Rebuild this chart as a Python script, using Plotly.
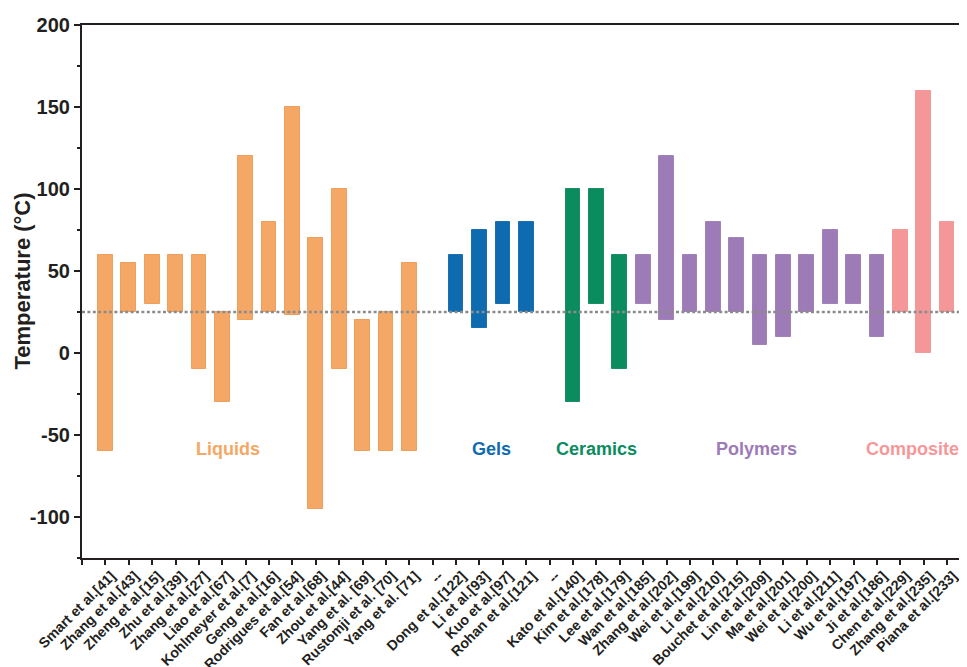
import plotly.graph_objects as go

categories = [
    "Smart et al.[41]", "Zhang et al.[43]", "Zheng et al.[15]", "Zhu et al.[39]",
    "Zhang et al.[27]", "Liao et al.[67]", "Kohlmeyer et al.[7]", "Geng et al.[16]",
    "Rodrigues et al.[54]", "Fan et al.[68]", "Zhou et al.[44]", "Yang et al. [69]",
    "Rustomji et al. [70]", "Yang et al. [71]", "--",
    "Dong et al.[122]", "Li et al.[93]", "Kuo et al.[97]", "Rohan et al.[121]", "--",
    "Kato et al.[140]", "Kim et al.[178]", "Lee et al.[179]",
    "Wan et al.[185]", "Zhang et al.[202]", "Wei et al.[199]", "Li et al.[210]",
    "Bouchet et al.[215]", "Lin et al.[209]", "Ma et al.[201]", "Wei et al.[200]",
    "Li et al.[211]", "Wu et al.[197]", "Ji et al.[186]",
    "Chen et al.[229]", "Zhang et al.[235]", "Piana et al.[233]",
]
low = [-60, 25, 30, 25, -10, -30, 20, 25, 23, -95, -10, -60, -60, -60, None,
       25, 15, 30, 25, None,
       -30, 30, -10,
       30, 20, 25, 25, 25, 5, 10, 25, 30, 30, 10,
       25, 0, 25]
high = [60, 55, 60, 60, 60, 25, 120, 80, 150, 70, 100, 20, 25, 55, None,
        60, 75, 80, 80, None,
        100, 100, 60,
        60, 120, 60, 80, 70, 60, 60, 60, 75, 60, 60,
        75, 160, 80]
group = (["Liquids"] * 14 + [None] + ["Gels"] * 4 + [None] + ["Ceramics"] * 3
         + ["Polymers"] * 11 + ["Composites"] * 3)

group_names = ["Liquids", "Gels", "Ceramics", "Polymers", "Composites"]
group_colors = ["#F5A866", "#0F6BAF", "#0A8C5E", "#9D7BB6", "#F59798"]
group_lines = ["#EE9F5C", "#1A6FB0", "#1B8F63", "#A283B9", "#F29A9B"]
group_label_x = [5.26, 16.5, 21.0, 27.86, 34.72]
group_label_y = -58.4
room_temp = 25
y_title = "Temperature (°C)"

y_ticks = [-100, -50, 0, 50, 100, 150, 200]

fig = go.Figure()
for gname, col, lcol in zip(group_names, group_colors, group_lines):
    idx = [i for i, g in enumerate(group) if g == gname]
    fig.add_trace(go.Bar(
        x=idx,
        y=[high[i] - low[i] for i in idx],
        base=[low[i] for i in idx],
        width=0.63,
        marker=dict(color=col, line=dict(color=lcol, width=1)),
        showlegend=False,
        hoverinfo="skip",
    ))

for gname, col, gx in zip(group_names, group_colors, group_label_x):
    fig.add_annotation(
        x=gx, y=group_label_y, xref="x", yref="y", text=gname, showarrow=False,
        font=dict(family="Liberation Sans, Arial, sans-serif", size=18, color=col, weight="bold"),
        xanchor="center", yanchor="middle",
    )

fig.add_shape(
    type="line", xref="paper", yref="y", x0=0, x1=1, y0=room_temp, y1=room_temp,
    line=dict(color="#8C8C8C", width=2.6, dash="3px,2.4px"), layer="above",
)

tick_font = dict(family="Liberation Sans, Arial, sans-serif", color="#231F20", weight="bold")

# y-axis title as rotated annotation (placed slightly above the plot centre, as in the reference)
fig.add_annotation(
    x=0, y=0.5, xref="paper", yref="paper", text=y_title, showarrow=False,
    textangle=-90, xanchor="center", yanchor="middle", xshift=-60, yshift=10,
    font=dict(size=22, **tick_font),
)

# page body has an 8px default margin; figure is sized so it ends at the window edge
fig.update_layout(
    width=959, height=659,
    margin=dict(l=74, r=0, t=17, b=109, autoexpand=False),
    plot_bgcolor="white", paper_bgcolor="white",
    bargap=0,
    xaxis=dict(
        range=[-1, 36.85],
        automargin=False,
        tickmode="array",
        tickvals=[-1] + list(range(len(categories))),
        ticktext=[""] + categories,
        tickangle=-45,
        tickfont=dict(size=14.2, **tick_font),
        ticklabelshift=6,
        ticklabelstandoff=-3,
        ticks="outside", ticklen=5, tickwidth=2, tickcolor="#231F20",
        showline=True, linecolor="#231F20", linewidth=2.2, mirror=True,
        showgrid=False, zeroline=False,
    ),
    yaxis=dict(
        range=[-125, 200],
        automargin=False,
        tickmode="array",
        tickvals=y_ticks,
        ticktext=[str(v) for v in y_ticks],
        tickfont=dict(size=20, **tick_font),
        ticks="outside", ticklen=6, tickwidth=2, tickcolor="#231F20",
        minor=dict(tickmode="linear", tick0=-125, dtick=25, ticks="outside",
                   ticklen=3, tickwidth=2, tickcolor="#231F20"),
        showline=True, linecolor="#231F20", linewidth=2.2,
        showgrid=False, zeroline=False,
    ),
)

fig.write_html("out.html")
